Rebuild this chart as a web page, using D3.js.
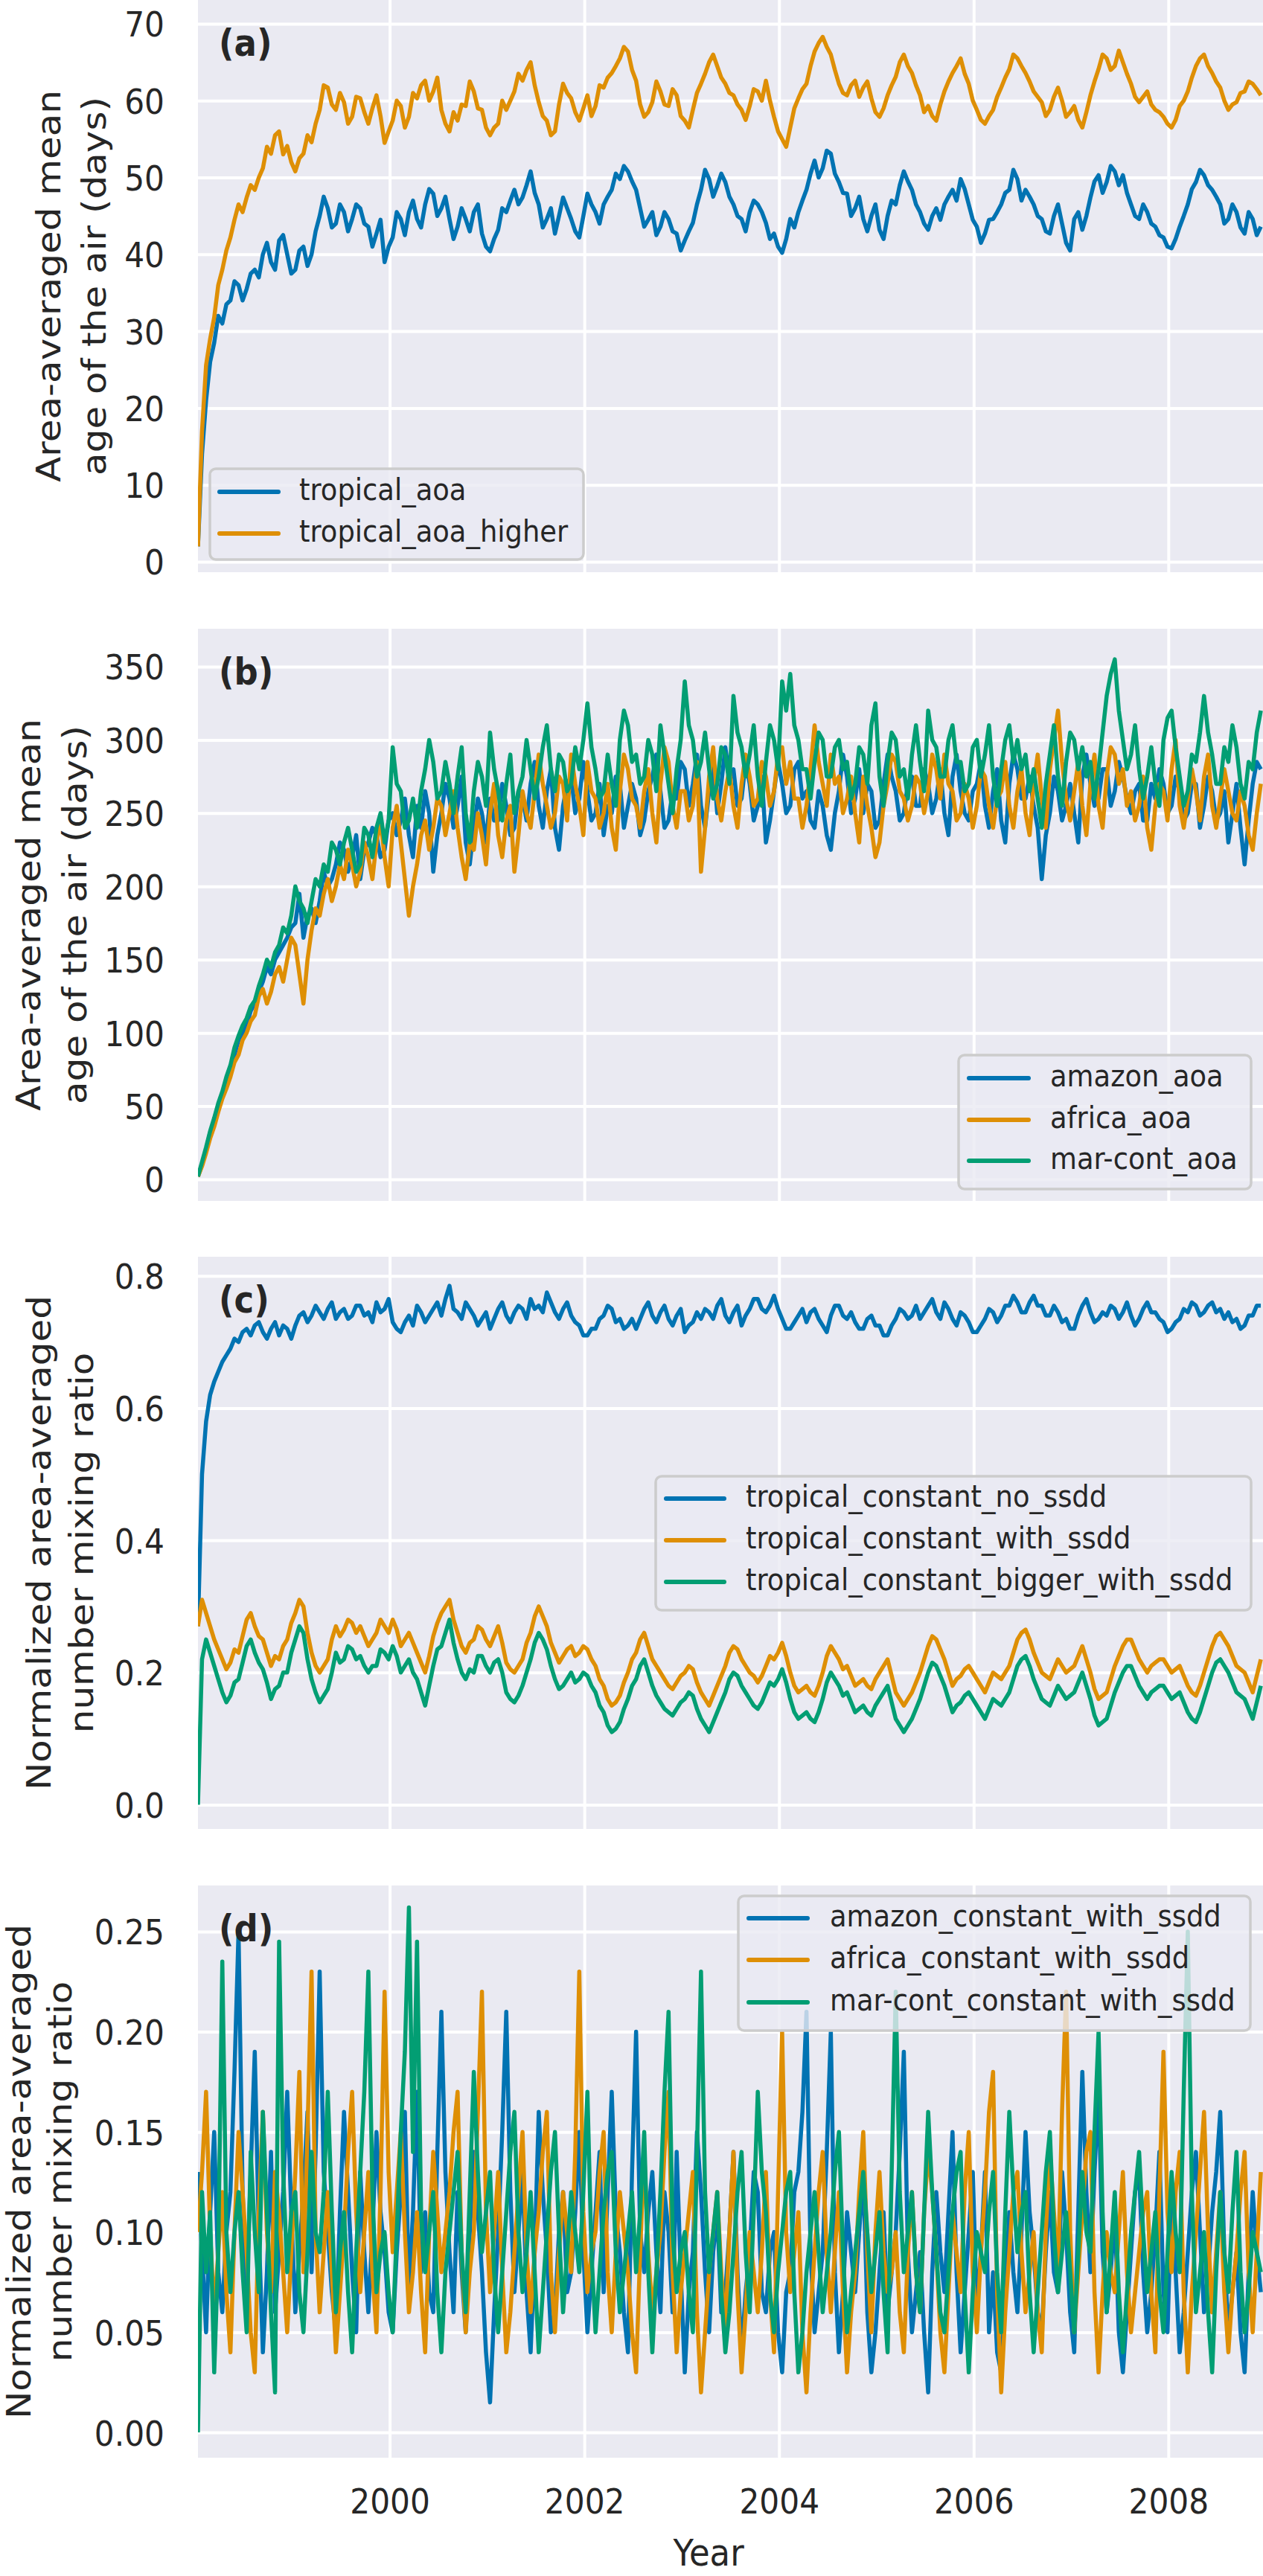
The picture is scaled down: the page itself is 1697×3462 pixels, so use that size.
<!DOCTYPE html>
<html>
<head>
<meta charset="utf-8">
<title>Age of air and mixing ratio</title>
<script src="https://d3js.org/d3.v7.min.js"></script>
<style>
  body { margin: 0; background: #fff; }
  text { font-family: "DejaVu Sans", sans-serif; fill: #262626; }
</style>
</head>
<body>
<svg id="fig" width="1697" height="3462"></svg>
<script>
// half-monthly samples from the left edge of the axes (decimal years)
const startYear = 1998.03;
const endYear = 2008.95;
const yearTicks = [2000, 2002, 2004, 2006, 2008];

// (a) area-averaged mean age of the air, days
const tropicalAoa = [2,14,21,26,28.5,32,31,33.5,34,36.5,36,34,35.5,37.5,38,37,40,41.5,39,38,41.8,42.5,40,37.5,38,40.5,41,38.5,40,43,45,47.5,46,43.5,44,46.5,45.5,43,44.6,46.5,46,44,43.6,41,42.7,44.5,39,41,42.2,45.5,44.6,42.5,45.5,47,44.6,43.5,46.5,48.5,47.9,45,46,47.5,44.6,42,43.6,46,44.6,43,45.5,46.5,42.7,41,40.4,42,43.2,46,45.5,47,48.4,46.5,47.4,49,50.8,48,46.5,43.5,44.6,46,42.7,45,47.4,46,44.6,43,42.2,45,47.9,46.5,45.5,44,46.5,47.5,48.4,50.5,49.8,51.5,50.8,49.5,48.4,46,43.6,44.5,45.5,42.5,43.6,45.5,44.6,43,42.7,40.5,41.8,43,44.1,46.5,48.4,51,49.8,47.5,48.9,50.5,49.4,47.5,46.5,45,44.6,43,45.5,47,46.5,45.5,44.1,42,42.7,41,40.2,42,44.6,43.5,45.5,47,48.4,50.5,52.2,50,51.2,53.5,53.1,50.5,49.4,48,47.9,45,46,47.5,44.6,43,45,46.5,43.2,42,45,47,46.5,49,50.8,49.5,48.4,46.5,45.5,44,43.2,45,46,44.5,46.5,47.5,48.4,47,49.8,48.5,46.5,44.5,43.6,41.5,42.7,44.5,44.6,45.5,46.5,48,48.4,51,49.8,47,48.4,47.5,46.5,45,44.6,43,42.7,45,46.5,44,41.5,40.5,44.6,45.5,43.2,45,47.4,49.5,50.3,48,49.4,51.5,50.8,49,50.3,48,46.5,45,44.6,46.5,45.5,44,43.6,42.5,42.2,41,40.8,42,43.6,45,46.5,48.5,49.4,51,50.3,49,48.4,47.5,46.5,44,44.6,46.5,45.5,43.5,42.7,45.5,44.6,42.5,43.6];
const tropicalAoaHigher = [2,17,25.6,29,31.8,36,38,40.5,42.2,44.5,46.5,45.5,47.4,49,48.4,50,51.2,54,53.1,55.5,56,53,54.1,52,50.8,52.5,53.1,55.5,54.6,57,58.8,62,61.7,59.5,58.8,61,59.8,57,57.9,60.5,60.3,58.5,57,59,60.7,58,54.5,56,57.4,60,59.3,56.5,57.9,61,60.3,62,62.6,60,61.2,63,58.8,57,56,58.5,57.4,59.5,59.3,62.5,61.2,59,58.8,56.5,55.5,56.5,57,60,58.8,60,61.2,63.5,62.6,64,65,62,59.8,58,57.4,55.5,56,59.5,62.2,61,60.3,58.5,57.4,59,60.7,58,59.3,62,61.7,63,63.6,64.5,65.5,67,66.4,64,62.6,59.5,57.9,58.5,59.8,62.5,61.2,59.5,59.3,61.5,60.7,58,57.4,56.5,58.8,61,62.2,63.5,65,66,64.5,63,62.2,61,60.7,59.5,58.8,57.5,59.3,61.5,61.2,60,62.6,60,57.9,56,55,54,56.5,59,60.3,61.5,62.2,64.5,66.4,67.5,68.3,67,66,64,62.2,61,60.7,62,62.6,60.5,61.7,62.5,60.3,58.5,57.9,59,60.7,62,63.1,65,66,64.5,63.6,62,60.7,58.5,59.3,58,57.4,59.5,61.2,62.5,63.6,64.5,65.5,63.5,62.2,60,58.8,57.5,57,58,58.8,60.5,61.7,63,64.1,66,65.5,64.5,63.6,62.5,61.2,60.5,59.8,58,58.8,60.5,61.7,60,57.9,58.5,59.3,57.5,56.5,58.5,60.7,62.5,64.1,66,65.5,64,64.5,66.5,65,63.5,62.2,60.5,59.8,60.5,61.2,59.5,58.8,58.5,57.9,57,56.5,57.5,59.3,60,61.2,63,64.5,65.5,66,64.5,63.6,62.5,61.7,60,58.8,59.5,59.8,61,61.2,62.5,62.2,61.5,60.7];

// (b) regional age of the air, days
const amazonAoa = [2,10,20,32,40,50,58,68,75,85,95,100,105,115,120,128,135,145,140,150,155,160,165,172,175,195,165,180,185,175,190,210,200,205,215,230,225,210,220,235,205,225,230,240,235,220,225,245,250,235,245,260,235,220,255,240,265,250,210,235,250,270,260,240,255,275,230,215,240,260,250,230,260,245,245,270,255,235,240,265,260,245,270,285,255,240,265,280,240,225,255,270,275,250,260,285,265,245,250,270,235,255,250,275,270,240,255,270,260,235,245,265,275,290,265,240,245,265,260,285,280,255,270,290,255,240,265,285,250,270,295,275,280,255,260,285,270,245,255,275,230,245,265,285,270,250,255,280,285,260,265,245,240,265,255,235,225,250,265,290,275,250,260,280,250,270,265,240,245,270,290,275,265,245,250,270,275,255,255,280,270,250,260,280,250,235,275,290,265,250,245,265,270,285,255,240,265,280,245,230,270,290,280,260,260,275,255,240,205,235,250,275,265,245,255,270,250,230,275,290,270,255,260,280,280,255,265,285,275,260,250,265,270,245,245,270,260,280,270,250,255,275,265,245,250,270,270,240,255,275,265,245,250,265,230,250,270,240,215,245,270,285,280];
const africaAoa = [2,9,18,28,36,46,55,62,70,80,85,95,100,108,112,125,130,120,128,140,145,135,150,165,160,140,120,150,170,185,180,195,205,190,200,215,205,225,215,200,210,230,220,205,230,245,220,200,240,255,230,205,180,200,215,235,245,225,240,260,255,235,250,265,240,220,205,230,225,250,235,215,250,270,235,220,245,255,210,235,265,250,240,265,290,270,255,240,250,275,270,245,290,270,255,235,285,265,260,240,250,270,240,225,265,290,280,260,255,240,265,280,250,230,270,295,285,255,240,265,265,245,255,285,210,240,275,295,260,245,265,280,255,240,270,290,275,255,260,285,275,255,265,290,295,270,285,260,260,240,255,280,310,285,270,255,290,270,275,250,260,275,250,230,275,255,240,220,230,255,270,290,285,265,260,245,255,275,270,250,265,290,280,260,290,270,265,245,250,270,260,240,255,280,275,255,240,260,265,285,255,240,265,280,250,235,270,290,260,240,280,300,320,285,260,245,265,285,255,235,270,290,255,240,275,295,290,270,280,255,265,245,255,275,240,225,255,270,265,245,280,300,255,240,260,280,265,245,275,290,255,240,260,280,265,250,245,265,255,235,225,250,270];
const marContAoa = [2,12,22,33,42,52,60,70,78,90,98,105,110,118,122,132,140,150,145,155,160,172,168,180,200,190,185,175,190,205,200,215,210,230,225,215,230,240,225,210,215,240,235,220,240,250,230,245,295,270,265,240,245,260,240,265,280,300,285,260,265,285,270,250,275,295,250,230,265,285,275,255,305,280,265,245,270,290,250,265,275,300,280,260,275,295,310,280,265,290,285,265,270,295,280,300,325,295,280,260,265,290,270,255,300,320,310,285,290,270,275,300,290,265,310,290,270,250,280,300,340,310,300,275,285,305,280,260,270,295,290,270,330,305,295,275,290,310,275,255,285,310,300,280,340,320,345,310,300,280,280,260,285,305,300,275,275,295,300,280,285,260,270,295,290,270,310,325,275,255,285,305,300,275,280,260,290,310,285,265,320,300,295,275,275,300,310,285,285,265,270,295,300,275,290,310,275,255,280,300,310,285,300,280,290,265,280,260,240,270,290,310,275,255,285,305,300,280,295,275,285,260,280,305,330,345,355,320,300,280,290,310,280,260,275,295,270,255,300,315,320,295,275,255,265,290,285,305,330,305,290,270,270,295,285,310,295,270,260,285,280,305,320];

// (c) normalized area-averaged number mixing ratio, tropical release
const tropNoSsdd = [0.27,0.50,0.58,0.62,0.64,0.655,0.67,0.68,0.69,0.705,0.70,0.715,0.72,0.71,0.725,0.73,0.715,0.705,0.72,0.73,0.71,0.725,0.72,0.705,0.725,0.74,0.745,0.73,0.74,0.755,0.745,0.735,0.75,0.76,0.735,0.745,0.75,0.735,0.74,0.755,0.755,0.74,0.745,0.73,0.76,0.745,0.75,0.765,0.73,0.72,0.715,0.73,0.74,0.725,0.755,0.745,0.73,0.74,0.75,0.76,0.74,0.765,0.785,0.75,0.745,0.735,0.76,0.75,0.74,0.725,0.735,0.745,0.72,0.735,0.75,0.76,0.74,0.73,0.745,0.755,0.75,0.735,0.765,0.75,0.755,0.745,0.775,0.76,0.745,0.735,0.75,0.76,0.74,0.73,0.725,0.71,0.71,0.72,0.72,0.735,0.74,0.755,0.75,0.73,0.735,0.72,0.725,0.735,0.72,0.735,0.75,0.76,0.74,0.73,0.745,0.755,0.735,0.725,0.74,0.75,0.715,0.725,0.73,0.745,0.735,0.75,0.745,0.735,0.755,0.765,0.74,0.73,0.745,0.755,0.725,0.74,0.75,0.765,0.765,0.75,0.745,0.755,0.77,0.75,0.735,0.72,0.72,0.73,0.74,0.75,0.73,0.745,0.75,0.735,0.725,0.715,0.74,0.755,0.755,0.74,0.735,0.745,0.73,0.72,0.72,0.735,0.74,0.725,0.725,0.71,0.71,0.725,0.735,0.75,0.745,0.735,0.74,0.755,0.735,0.745,0.755,0.765,0.745,0.735,0.76,0.75,0.735,0.725,0.745,0.74,0.73,0.715,0.715,0.725,0.735,0.75,0.745,0.73,0.74,0.755,0.755,0.77,0.76,0.745,0.745,0.76,0.77,0.755,0.755,0.74,0.74,0.755,0.745,0.73,0.735,0.72,0.72,0.74,0.755,0.765,0.745,0.73,0.735,0.745,0.74,0.755,0.75,0.735,0.745,0.76,0.74,0.725,0.735,0.75,0.76,0.745,0.745,0.735,0.73,0.715,0.72,0.73,0.735,0.75,0.745,0.76,0.755,0.74,0.745,0.755,0.76,0.745,0.75,0.735,0.745,0.73,0.735,0.72,0.725,0.74,0.74,0.755,0.755];
const tropWithSsdd = [0.27,0.31,0.29,0.27,0.25,0.235,0.22,0.205,0.215,0.235,0.23,0.255,0.28,0.29,0.27,0.255,0.25,0.23,0.21,0.225,0.22,0.24,0.25,0.275,0.29,0.31,0.30,0.26,0.23,0.21,0.20,0.21,0.22,0.25,0.27,0.255,0.265,0.28,0.275,0.26,0.27,0.255,0.24,0.25,0.26,0.28,0.27,0.26,0.28,0.265,0.24,0.25,0.26,0.245,0.23,0.215,0.20,0.225,0.255,0.275,0.29,0.30,0.31,0.28,0.26,0.24,0.23,0.245,0.25,0.27,0.265,0.25,0.24,0.255,0.27,0.245,0.215,0.205,0.20,0.21,0.22,0.245,0.26,0.285,0.30,0.285,0.27,0.245,0.23,0.215,0.225,0.235,0.24,0.225,0.23,0.24,0.235,0.22,0.21,0.19,0.18,0.16,0.15,0.155,0.165,0.185,0.20,0.22,0.23,0.25,0.26,0.24,0.22,0.21,0.20,0.19,0.18,0.175,0.185,0.195,0.20,0.21,0.205,0.185,0.17,0.16,0.15,0.165,0.18,0.195,0.21,0.23,0.24,0.235,0.22,0.21,0.20,0.195,0.185,0.195,0.21,0.225,0.22,0.23,0.245,0.225,0.20,0.18,0.17,0.175,0.18,0.17,0.165,0.18,0.20,0.225,0.24,0.23,0.22,0.205,0.21,0.195,0.18,0.185,0.19,0.18,0.175,0.19,0.20,0.21,0.22,0.195,0.17,0.16,0.15,0.16,0.17,0.185,0.20,0.22,0.24,0.255,0.25,0.235,0.22,0.20,0.18,0.19,0.195,0.205,0.21,0.20,0.19,0.18,0.17,0.185,0.20,0.195,0.19,0.20,0.21,0.23,0.25,0.26,0.265,0.25,0.23,0.215,0.20,0.195,0.19,0.205,0.22,0.21,0.20,0.205,0.21,0.225,0.24,0.22,0.20,0.175,0.16,0.165,0.17,0.19,0.21,0.225,0.24,0.25,0.25,0.235,0.22,0.21,0.20,0.21,0.215,0.22,0.22,0.21,0.20,0.205,0.21,0.195,0.18,0.17,0.165,0.18,0.20,0.22,0.24,0.255,0.26,0.25,0.24,0.225,0.21,0.205,0.20,0.185,0.17,0.195,0.22];
const tropBiggerWithSsdd = [0,0.22,0.25,0.23,0.21,0.19,0.17,0.155,0.165,0.185,0.19,0.215,0.24,0.25,0.23,0.215,0.205,0.185,0.16,0.175,0.18,0.2,0.2,0.23,0.25,0.27,0.26,0.22,0.19,0.17,0.155,0.165,0.175,0.2,0.23,0.215,0.22,0.24,0.235,0.22,0.225,0.21,0.2,0.21,0.21,0.235,0.23,0.22,0.24,0.225,0.2,0.21,0.22,0.2,0.19,0.17,0.15,0.18,0.21,0.235,0.24,0.26,0.28,0.245,0.22,0.2,0.19,0.205,0.2,0.225,0.225,0.21,0.2,0.215,0.22,0.2,0.17,0.16,0.155,0.165,0.18,0.2,0.22,0.245,0.26,0.25,0.235,0.21,0.19,0.175,0.18,0.19,0.2,0.185,0.19,0.2,0.195,0.18,0.17,0.15,0.14,0.12,0.11,0.115,0.125,0.145,0.16,0.18,0.19,0.21,0.22,0.2,0.18,0.165,0.155,0.145,0.14,0.135,0.145,0.155,0.16,0.17,0.165,0.145,0.13,0.12,0.11,0.125,0.14,0.155,0.17,0.19,0.2,0.195,0.18,0.17,0.16,0.15,0.145,0.155,0.17,0.185,0.18,0.19,0.205,0.185,0.16,0.14,0.13,0.135,0.14,0.13,0.125,0.14,0.16,0.185,0.2,0.19,0.18,0.165,0.17,0.155,0.14,0.145,0.15,0.14,0.135,0.15,0.16,0.17,0.18,0.155,0.13,0.12,0.11,0.12,0.13,0.145,0.16,0.18,0.2,0.215,0.21,0.195,0.18,0.16,0.14,0.15,0.155,0.165,0.17,0.16,0.15,0.14,0.13,0.145,0.16,0.155,0.15,0.16,0.17,0.19,0.21,0.22,0.225,0.21,0.19,0.175,0.16,0.155,0.15,0.165,0.18,0.17,0.16,0.165,0.17,0.185,0.2,0.18,0.16,0.135,0.12,0.125,0.13,0.15,0.17,0.185,0.2,0.21,0.21,0.195,0.18,0.17,0.16,0.17,0.175,0.18,0.18,0.17,0.16,0.165,0.17,0.155,0.14,0.13,0.125,0.14,0.16,0.18,0.2,0.215,0.22,0.21,0.2,0.185,0.17,0.165,0.16,0.145,0.13,0.155,0.18];

// (d) normalized area-averaged number mixing ratio, regional release
const amazonSsdd = [0.13,0.09,0.05,0.11,0.15,0.08,0.06,0.10,0.12,0.18,0.25,0.12,0.07,0.13,0.19,0.10,0.04,0.08,0.14,0.06,0.09,0.12,0.17,0.11,0.06,0.09,0.12,0.16,0.08,0.14,0.23,0.13,0.10,0.07,0.05,0.11,0.16,0.12,0.08,0.05,0.13,0.09,0.06,0.10,0.15,0.11,0.09,0.06,0.05,0.09,0.12,0.16,0.07,0.11,0.17,0.08,0.11,0.07,0.06,0.14,0.21,0.13,0.09,0.06,0.12,0.08,0.05,0.10,0.14,0.11,0.08,0.04,0.015,0.06,0.10,0.15,0.21,0.12,0.07,0.10,0.13,0.07,0.04,0.09,0.16,0.12,0.09,0.05,0.06,0.10,0.12,0.07,0.08,0.11,0.15,0.09,0.05,0.08,0.11,0.14,0.07,0.12,0.17,0.11,0.09,0.06,0.04,0.13,0.20,0.10,0.08,0.11,0.13,0.09,0.06,0.12,0.10,0.06,0.14,0.08,0.03,0.07,0.09,0.15,0.12,0.08,0.05,0.09,0.11,0.06,0.07,0.10,0.14,0.08,0.04,0.07,0.09,0.13,0.12,0.07,0.06,0.09,0.10,0.05,0.03,0.07,0.08,0.12,0.13,0.16,0.21,0.09,0.05,0.07,0.09,0.14,0.20,0.08,0.04,0.07,0.11,0.09,0.07,0.10,0.13,0.06,0.03,0.05,0.08,0.11,0.06,0.08,0.10,0.14,0.19,0.09,0.05,0.07,0.09,0.05,0.02,0.08,0.12,0.09,0.07,0.11,0.15,0.08,0.04,0.07,0.10,0.13,0.06,0.09,0.13,0.05,0.08,0.04,0.03,0.07,0.11,0.08,0.06,0.10,0.15,0.11,0.09,0.06,0.05,0.09,0.12,0.08,0.07,0.13,0.10,0.06,0.04,0.11,0.18,0.12,0.08,0.13,0.17,0.09,0.06,0.08,0.11,0.05,0.03,0.06,0.09,0.12,0.13,0.08,0.05,0.07,0.10,0.14,0.07,0.05,0.12,0.08,0.04,0.06,0.09,0.12,0.14,0.10,0.06,0.08,0.11,0.13,0.16,0.09,0.05,0.07,0.09,0.05,0.03,0.08,0.12,0.09,0.07];
const africaSsdd = [0.10,0.13,0.17,0.10,0.06,0.09,0.12,0.07,0.04,0.10,0.15,0.12,0.09,0.05,0.03,0.11,0.16,0.10,0.07,0.13,0.11,0.08,0.05,0.09,0.13,0.18,0.08,0.15,0.23,0.10,0.06,0.09,0.12,0.08,0.04,0.07,0.10,0.14,0.17,0.11,0.07,0.10,0.13,0.08,0.05,0.12,0.22,0.13,0.09,0.12,0.15,0.10,0.06,0.08,0.11,0.07,0.04,0.10,0.14,0.11,0.08,0.10,0.12,0.15,0.17,0.09,0.05,0.08,0.10,0.16,0.22,0.11,0.07,0.10,0.13,0.08,0.04,0.06,0.09,0.12,0.15,0.09,0.06,0.09,0.11,0.14,0.16,0.08,0.05,0.09,0.12,0.10,0.08,0.14,0.23,0.11,0.07,0.09,0.10,0.13,0.15,0.08,0.05,0.09,0.12,0.10,0.08,0.05,0.03,0.09,0.14,0.09,0.06,0.08,0.10,0.14,0.17,0.08,0.04,0.07,0.09,0.11,0.13,0.06,0.02,0.05,0.08,0.10,0.12,0.08,0.05,0.10,0.14,0.07,0.03,0.06,0.10,0.08,0.06,0.09,0.13,0.07,0.04,0.12,0.20,0.10,0.07,0.09,0.11,0.05,0.02,0.06,0.09,0.12,0.14,0.09,0.06,0.09,0.12,0.07,0.03,0.06,0.08,0.12,0.15,0.09,0.05,0.10,0.13,0.09,0.07,0.08,0.10,0.06,0.04,0.09,0.12,0.08,0.06,0.11,0.14,0.12,0.09,0.05,0.03,0.07,0.11,0.09,0.07,0.12,0.15,0.08,0.05,0.09,0.12,0.16,0.18,0.07,0.02,0.06,0.09,0.12,0.13,0.09,0.06,0.08,0.10,0.06,0.04,0.10,0.14,0.11,0.08,0.16,0.22,0.10,0.05,0.08,0.11,0.14,0.15,0.07,0.03,0.07,0.10,0.08,0.07,0.10,0.13,0.08,0.05,0.07,0.09,0.11,0.12,0.07,0.04,0.12,0.19,0.11,0.08,0.12,0.14,0.07,0.03,0.07,0.10,0.13,0.16,0.10,0.06,0.09,0.12,0.07,0.04,0.07,0.09,0.12,0.14,0.08,0.05,0.09,0.13];
const marContSsdd = [0,0.12,0.08,0.11,0.03,0.09,0.235,0.10,0.07,0.10,0.12,0.08,0.05,0.14,0.10,0.07,0.16,0.11,0.06,0.02,0.245,0.13,0.08,0.11,0.12,0.07,0.05,0.09,0.14,0.10,0.09,0.12,0.17,0.11,0.06,0.09,0.11,0.07,0.04,0.09,0.13,0.17,0.23,0.12,0.07,0.09,0.10,0.07,0.05,0.10,0.15,0.19,0.262,0.14,0.245,0.11,0.08,0.10,0.12,0.07,0.04,0.08,0.10,0.12,0.14,0.09,0.06,0.12,0.18,0.13,0.09,0.11,0.13,0.08,0.05,0.08,0.11,0.14,0.16,0.10,0.07,0.09,0.12,0.08,0.04,0.07,0.10,0.13,0.15,0.10,0.06,0.09,0.12,0.10,0.08,0.12,0.17,0.09,0.05,0.08,0.11,0.13,0.14,0.09,0.06,0.08,0.10,0.12,0.08,0.11,0.15,0.08,0.04,0.08,0.12,0.17,0.21,0.10,0.07,0.09,0.10,0.07,0.05,0.14,0.23,0.12,0.08,0.10,0.12,0.07,0.04,0.06,0.09,0.12,0.14,0.09,0.06,0.11,0.17,0.13,0.11,0.07,0.05,0.08,0.10,0.12,0.13,0.07,0.03,0.05,0.08,0.10,0.12,0.09,0.06,0.08,0.10,0.13,0.15,0.09,0.05,0.07,0.09,0.11,0.13,0.10,0.07,0.09,0.11,0.07,0.04,0.13,0.22,0.12,0.08,0.10,0.12,0.08,0.06,0.11,0.16,0.12,0.09,0.06,0.05,0.08,0.11,0.13,0.14,0.07,0.03,0.07,0.10,0.09,0.08,0.11,0.13,0.08,0.05,0.11,0.16,0.12,0.09,0.11,0.12,0.07,0.04,0.07,0.10,0.13,0.15,0.10,0.07,0.09,0.11,0.08,0.05,0.09,0.13,0.10,0.09,0.15,0.20,0.11,0.06,0.09,0.12,0.07,0.04,0.07,0.10,0.12,0.14,0.10,0.07,0.09,0.11,0.07,0.05,0.09,0.13,0.10,0.08,0.17,0.25,0.12,0.06,0.08,0.10,0.06,0.03,0.08,0.12,0.09,0.07,0.11,0.14,0.08,0.05,0.07,0.10,0.09,0.08];

const colors = ["#0173b2", "#de8f05", "#029e73"];

const panels = [
  { tag: "(a)", top: 0, domain: [-1.36, 73.1], ticks: [0,10,20,30,40,50,60,70], fmt: d3.format("d"),
    label: ["Area-averaged mean", "age of the air (days)"], labelX: [81, 142],
    series: [["tropical_aoa", tropicalAoa], ["tropical_aoa_higher", tropicalAoaHigher]],
    legend: { x: 282, y: 630, w: 502, h: 122, rows: [661, 717], lx: [295, 374], tx: 402 } },
  { tag: "(b)", top: 845, domain: [-14.7, 375.9], ticks: [0,50,100,150,200,250,300,350], fmt: d3.format("d"),
    label: ["Area-averaged mean", "age of the air (days)"], labelX: [54, 116],
    series: [["amazon_aoa", amazonAoa], ["africa_aoa", africaAoa], ["mar-cont_aoa", marContAoa]],
    legend: { x: 1288, y: 1418, w: 393, h: 180, rows: [1449, 1505, 1560], lx: [1302, 1382], tx: 1411 } },
  { tag: "(c)", top: 1689, domain: [-0.0366, 0.829], ticks: [0,0.2,0.4,0.6,0.8], fmt: d3.format(".1f"),
    label: ["Normalized area-averaged", "number mixing ratio"], labelX: [68, 125],
    series: [["tropical_constant_no_ssdd", tropNoSsdd], ["tropical_constant_with_ssdd", tropWithSsdd], ["tropical_constant_bigger_with_ssdd", tropBiggerWithSsdd]],
    legend: { x: 881, y: 1984, w: 800, h: 180, rows: [2014, 2070, 2126], lx: [895, 973], tx: 1002 } },
  { tag: "(d)", top: 2534, domain: [-0.0126, 0.273], ticks: [0,0.05,0.1,0.15,0.2,0.25], fmt: d3.format(".2f"),
    label: ["Normalized area-averaged", "number mixing ratio"], labelX: [41, 96],
    series: [["amazon_constant_with_ssdd", amazonSsdd], ["africa_constant_with_ssdd", africaSsdd], ["mar-cont_constant_with_ssdd", marContSsdd]],
    legend: { x: 992, y: 2548, w: 688, h: 181, rows: [2578, 2634, 2691], lx: [1006, 1085], tx: 1115 } }
];

const left = 266, right = 1698, plotH = 769;
const squeeze = "scale(0.9,1)";   // the source glyphs are a bit narrow
const svg = d3.select("#fig");

const x = d3.scaleLinear().domain([startYear, 2008.98]).range([left, right]);

panels.forEach(function (p, k) {
  const y = d3.scaleLinear().domain(p.domain).range([p.top + plotH, p.top]);
  const g = svg.append("g");

  g.append("rect")
    .attr("x", left).attr("y", p.top)
    .attr("width", right - left).attr("height", plotH)
    .attr("fill", "#eaeaf2");

  // horizontal grid + y tick labels
  const yAxis = g.append("g")
    .attr("transform", "translate(" + left + ",0)")
    .call(d3.axisLeft(y).tickValues(p.ticks).tickFormat(p.fmt)
      .tickSize(-(right - left)).tickPadding(50));
  yAxis.select(".domain").remove();
  yAxis.selectAll("line").attr("stroke", "#fff").attr("stroke-width", 4);
  yAxis.selectAll("text")
    .attr("font-size", 47).attr("fill", "#262626")
    .attr("font-family", "DejaVu Sans").attr("dy", "0.36em")
    .attr("transform", squeeze);

  // vertical grid, year labels on the last panel only
  const last = k === panels.length - 1;
  const xAxis = g.append("g")
    .attr("transform", "translate(0," + p.top + ")")
    .call(d3.axisBottom(x).tickValues(yearTicks).tickFormat(d3.format("d"))
      .tickSize(plotH).tickPadding(42));
  xAxis.select(".domain").remove();
  xAxis.selectAll("line").attr("stroke", "#fff").attr("stroke-width", 4);
  if (last) {
    xAxis.selectAll("text")
      .attr("font-size", 47).attr("fill", "#262626")
      .attr("font-family", "DejaVu Sans").attr("dy", "0.71em")
      .attr("transform", squeeze);
  } else {
    xAxis.selectAll("text").remove();
  }

  // lines
  const clipId = "clip" + k;
  svg.append("clipPath").attr("id", clipId)
    .append("rect").attr("x", left).attr("y", p.top)
    .attr("width", right - left).attr("height", plotH);

  p.series.forEach(function (s, j) {
    const step = (endYear - startYear) / (s[1].length - 1);
    const line = d3.line()
      .x((d, i) => x(startYear + i * step))
      .y(d => y(d));
    g.append("path")
      .datum(s[1])
      .attr("clip-path", "url(#" + clipId + ")")
      .attr("fill", "none")
      .attr("stroke", colors[j])
      .attr("stroke-width", 5.5)
      .attr("stroke-linejoin", "round")
      .attr("d", line);
  });

  // legend
  const L = p.legend;
  g.append("rect")
    .attr("x", L.x).attr("y", L.y).attr("width", L.w).attr("height", L.h)
    .attr("rx", 8)
    .attr("fill", "#eaeaf2").attr("fill-opacity", 0.8)
    .attr("stroke", "#cccccc").attr("stroke-width", 3.5);
  p.series.forEach(function (s, j) {
    g.append("line")
      .attr("x1", L.lx[0]).attr("x2", L.lx[1])
      .attr("y1", L.rows[j]).attr("y2", L.rows[j])
      .attr("stroke", colors[j]).attr("stroke-width", 6)
      .attr("stroke-linecap", "round");
    g.append("text")
      .attr("transform", "translate(" + L.tx + "," + (L.rows[j] + 11) + ") " + squeeze)
      .attr("font-size", 41)
      .text(s[0]);
  });

  // panel tag
  g.append("text")
    .attr("transform", "translate(294," + (p.top + 75) + ") " + squeeze)
    .attr("font-size", 50).attr("font-weight", "bold")
    .text(p.tag);

  // y label, two lines
  const cy = p.top + plotH / 2;
  p.label.forEach(function (t, j) {
    g.append("text")
      .attr("transform", "translate(" + p.labelX[j] + "," + cy + ") " + squeeze + " rotate(-90)")
      .attr("text-anchor", "middle")
      .attr("font-size", 50)
      .text(t);
  });
});

svg.append("text")
  .attr("transform", "translate(952,3448) " + squeeze)
  .attr("text-anchor", "middle")
  .attr("font-size", 50)
  .text("Year");
</script>
</body>
</html>
